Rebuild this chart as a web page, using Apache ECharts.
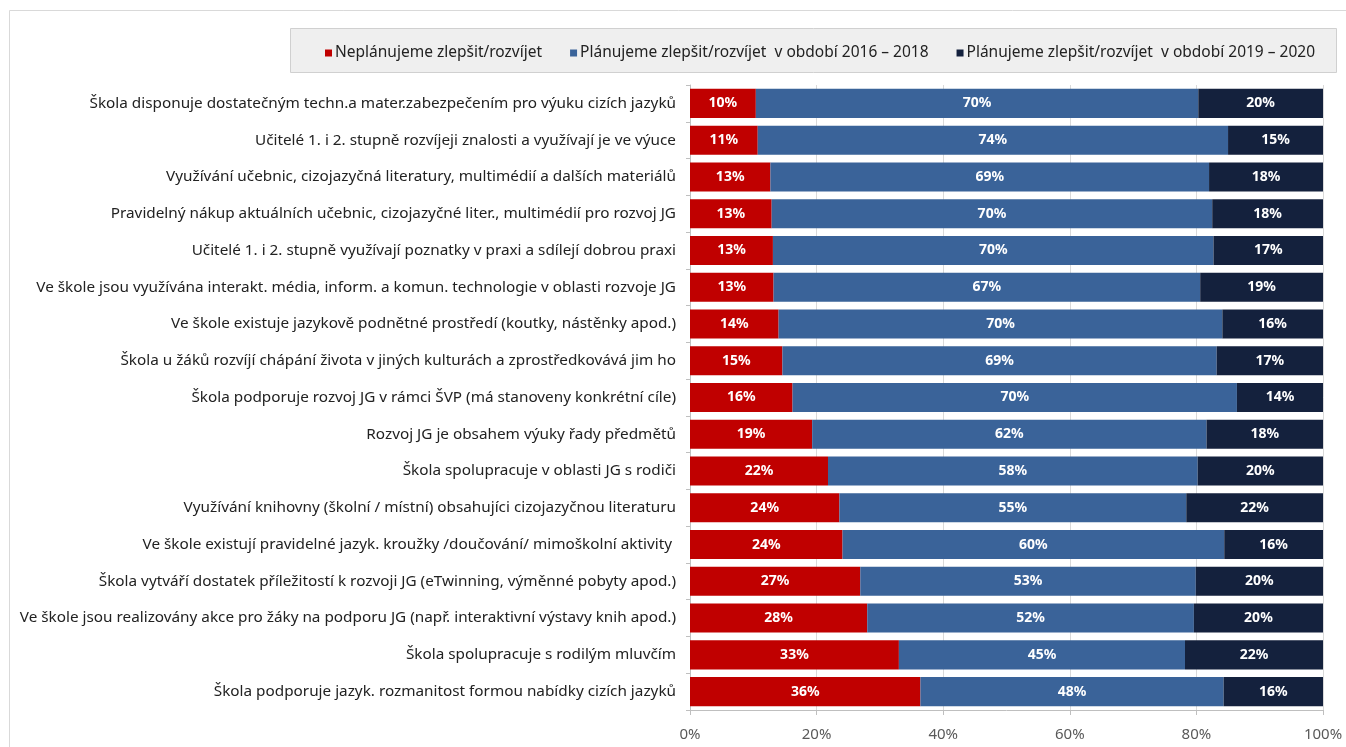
<!DOCTYPE html>
<html>
<head>
<meta charset="utf-8">
<script src="https://cdn.jsdelivr.net/npm/echarts@6/dist/echarts.min.js"></script>
<style>html,body{margin:0;padding:0;background:#fff;}#c{width:1346px;height:747px;}</style>
</head>
<body>
<div id="c"></div>
<script>
const categories = [
  "Škola disponuje dostatečným techn.a mater.zabezpečením pro výuku cizích jazyků",
  "Učitelé 1. i 2. stupně rozvíjeji znalosti a využívají je ve výuce",
  "Využívání učebnic, cizojazyčná literatury, multimédií a dalších materiálů",
  "Pravidelný nákup aktuálních učebnic, cizojazyčné liter., multimédií pro rozvoj JG",
  "Učitelé 1. i 2. stupně využívají poznatky v praxi a sdílejí dobrou praxi",
  "Ve škole jsou využívána interakt. média, inform. a komun. technologie v oblasti rozvoje JG",
  "Ve škole existuje jazykově podnětné prostředí (koutky, nástěnky apod.)",
  "Škola u žáků rozvíjí chápání života v jiných kulturách a zprostředkovává jim ho",
  "Škola podporuje rozvoj JG v rámci ŠVP (má stanoveny konkrétní cíle)",
  "Rozvoj JG je obsahem výuky řady předmětů",
  "Škola spolupracuje v oblasti JG s rodiči",
  "Využívání knihovny (školní / místní) obsahujíci cizojazyčnou literaturu",
  "Ve škole existují pravidelné jazyk. kroužky /doučování/ mimoškolní aktivity ",
  "Škola vytváří dostatek příležitostí k rozvoji JG (eTwinning, výměnné pobyty apod.)",
  "Ve škole jsou realizovány akce pro žáky na podporu JG (např. interaktivní výstavy knih apod.)",
  "Škola spolupracuje s rodilým mluvčím",
  "Škola podporuje jazyk. rozmanitost formou nabídky cizích jazyků"
];
const seriesNames = [
  "Neplánujeme zlepšit/rozvíjet",
  "Plánujeme zlepšit/rozvíjet  v období 2016 – 2018",
  "Plánujeme zlepšit/rozvíjet  v období 2019 – 2020"
];
const notPlanned = [10.4, 10.7, 12.7, 12.9, 13.1, 13.2, 14.0, 14.6, 16.2, 19.3, 21.8, 23.6, 24.1, 26.9, 28.0, 33.0, 36.4];
const plan2016 =   [69.9, 74.3, 69.3, 69.6, 69.6, 67.4, 70.1, 68.6, 70.2, 62.3, 58.4, 54.8, 60.3, 53.0, 51.6, 45.2, 47.9];
const plan2019 =   [19.7, 15.0, 18.0, 17.6, 17.3, 19.4, 15.9, 16.8, 13.6, 18.4, 19.8, 21.6, 15.6, 20.1, 20.4, 21.8, 15.7];
const xTicks = [0, 20, 40, 60, 80, 100];
const colors = ["#c00000", "#3a6399", "#14213d"];

const FONT = "Noto Sans";
const chart = echarts.init(document.getElementById('c'), null, {renderer: 'canvas'});
const dataSets = [notPlanned, plan2016, plan2019];
const series = dataSets.map((d, i) => ({
  name: seriesNames[i],
  type: 'bar',
  stack: 'total',
  data: d,
  barCategoryGap: '21%',
  itemStyle: {color: colors[i]},
  label: {
    show: true,
    position: 'inside',
    color: '#fff',
    fontFamily: FONT,
    fontWeight: 'bold',
    fontSize: 14,
    formatter: p => Math.round(p.value) + '%'
  }
}));

chart.setOption({
  animation: false,
  backgroundColor: '#fff',
  graphic: [
    {type: 'rect', shape: {x: 9.5, y: 10.5, width: 1346, height: 800}, style: {fill: 'none', stroke: '#d9d9d9', lineWidth: 1}, z: -10},
    {type: 'rect', shape: {x: 290.5, y: 28.5, width: 1046, height: 44}, style: {fill: '#efefef', stroke: '#d0d0d0', lineWidth: 1}, z: -5}
  ],
  legend: {
    left: 320,
    top: 40,
    itemWidth: 7,
    itemHeight: 7,
    itemGap: 28,
    icon: 'rect',
    textStyle: {fontFamily: FONT, fontSize: 15.5, color: '#222', padding: [0, 0, 0, -2]},
    data: seriesNames
  },
  grid: {left: 690, right: 23, top: 85, bottom: 37},
  xAxis: {
    type: 'value',
    min: 0,
    max: 100,
    interval: 20,
    axisLine: {show: true, lineStyle: {color: '#bfbfbf'}},
    axisTick: {show: true, length: 5, lineStyle: {color: '#bfbfbf'}},
    splitLine: {show: true, lineStyle: {color: '#d9d9d9'}},
    axisLabel: {
      fontFamily: FONT, fontSize: 15, color: '#595959', margin: 17,
      formatter: v => xTicks.includes(v) ? v + '%' : ''
    }
  },
  yAxis: {
    type: 'category',
    inverse: true,
    data: categories,
    axisLine: {show: true, lineStyle: {color: '#bfbfbf'}},
    axisTick: {show: true, length: 4, lineStyle: {color: '#bfbfbf'}},
    axisLabel: {fontFamily: FONT, fontSize: 15.3, color: '#222', margin: 14}
  },
  series: series
});
</script>
</body>
</html>
